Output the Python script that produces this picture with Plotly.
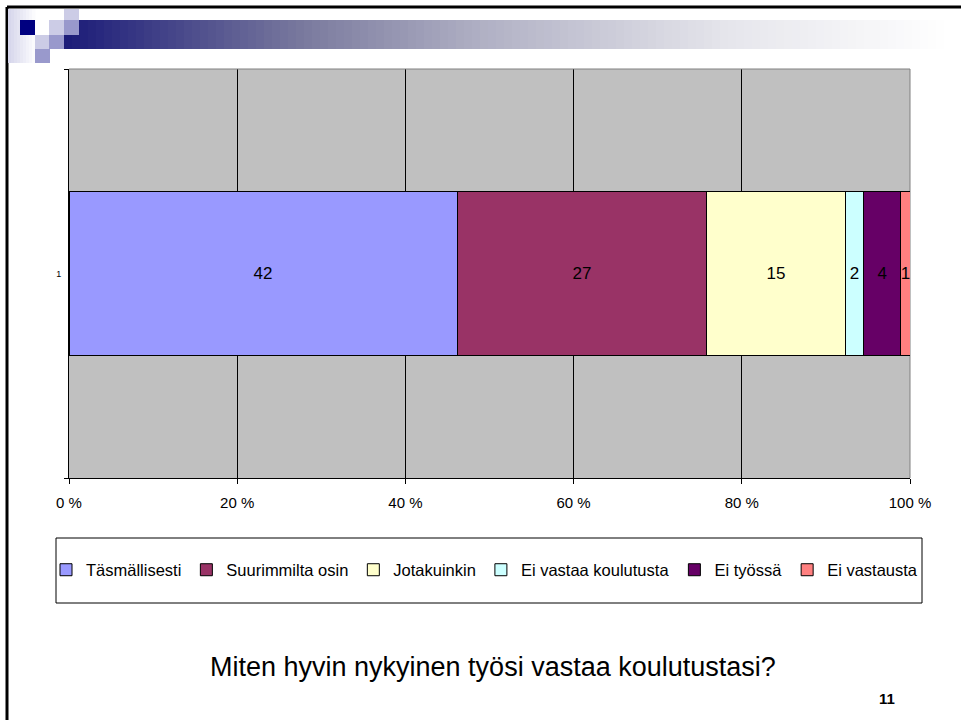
import plotly.graph_objects as go

# ---- data ----
categories = ["Täsmällisesti", "Suurimmilta osin", "Jotakuinkin",
              "Ei vastaa koulutusta", "Ei työssä", "Ei vastausta"]
values = [42, 27, 15, 2, 4, 1]
colors = ["#9999FF", "#993366", "#FFFFCC", "#CCFFFF", "#660066", "#FF8080"]
row_labels = ["1"]
x_tickvals = [0, 20, 40, 60, 80, 100]
x_ticktext = ["0 %", "20 %", "40 %", "60 %", "80 %", "100 %"]
title_text = "Miten hyvin nykyinen työsi vastaa koulutustasi?"
page_number = "11"

W, H = 961, 720
ML, MR, MT, MB = 69, 51, 69, 242
PW, PH = W - ML - MR, H - MT - MB
FONT = "Liberation Sans, Arial, sans-serif"


def px(x):
    return (x - ML) / PW


def py(y):
    return (H - MB - y) / PH


fig = go.Figure()
for name, v, c in zip(categories, values, colors):
    fig.add_trace(go.Bar(
        y=row_labels, x=[v], name=name, orientation="h",
        marker=dict(color=c, line=dict(color="#000000", width=1)),
        text=[str(v)], textposition="inside", insidetextanchor="middle",
        textangle=0, constraintext="none",
        textfont=dict(color="black", size=17, family=FONT),
    ))

shapes = []
# slide border lines
shapes.append(dict(type="line", xref="paper", yref="paper", x0=px(7), x1=px(961),
                   y0=py(7), y1=py(7), line=dict(color="black", width=3)))
shapes.append(dict(type="line", xref="paper", yref="paper", x0=px(7), x1=px(7),
                   y0=py(7), y1=py(720), line=dict(color="black", width=3)))

# header gradient bar
stops = [(0.0, (26, 26, 120)), (0.27, (122, 122, 158)), (0.47, (176, 176, 196)),
         (0.75, (230, 230, 236)), (1.0, (255, 255, 255))]


def grad(t):
    for (t0, c0), (t1, c1) in zip(stops[:-1], stops[1:]):
        if t <= t1:
            f = (t - t0) / (t1 - t0) if t1 > t0 else 0
            return "rgb(%d,%d,%d)" % tuple(round(a + (b - a) * f) for a, b in zip(c0, c1))
    return "rgb(255,255,255)"


x_start, x_end, n = 64, 952, 111
step = (x_end - x_start) / n
for i in range(n):
    shapes.append(dict(type="rect", xref="paper", yref="paper",
                       x0=px(x_start + i * step), x1=px(x_start + (i + 1) * step + 0.6),
                       y0=py(20), y1=py(49), line=dict(width=0),
                       fillcolor=grad((i + 0.5) / n)))
# left light strip
for i in range(9):
    t = i / 9
    c = tuple(round(a + (255 - a) * t) for a in (215, 215, 236))
    shapes.append(dict(type="rect", xref="paper", yref="paper",
                       x0=px(8 + i * 3), x1=px(8 + (i + 1) * 3 + 0.5),
                       y0=py(9), y1=py(63), line=dict(width=0),
                       fillcolor="rgb(%d,%d,%d)" % c))
squares = [
    (20, 35, 20, 35, "#000080"),
    (49, 64, 20, 35, "#CCCCE6"),
    (64, 79, 20, 35, "#9999CC"),
    (64, 79, 9, 20, "#CCCCE6"),
    (35, 49, 35, 49, "#CCCCE6"),
    (49, 64, 35, 49, "#9999CC"),
    (35, 50, 49, 63, "#9999CC"),
]
for x0, x1, y0, y1, c in squares:
    shapes.append(dict(type="rect", xref="paper", yref="paper",
                       x0=px(x0), x1=px(x1), y0=py(y0), y1=py(y1),
                       line=dict(width=0), fillcolor=c))

# plot-area top / right border
shapes.append(dict(type="line", xref="paper", yref="paper", x0=0, x1=1, y0=1, y1=1,
                   line=dict(color="#808080", width=1)))
shapes.append(dict(type="line", xref="paper", yref="paper", x0=1, x1=1, y0=0, y1=1,
                   line=dict(color="#808080", width=1), layer="below"))
# legend frame
shapes.append(dict(type="rect", xref="paper", yref="paper",
                   x0=px(56), x1=px(922), y0=py(538), y1=py(603),
                   line=dict(color="black", width=1), fillcolor="rgba(0,0,0,0)"))

annotations = [
    dict(text=title_text, xref="paper", yref="paper", x=px(493), y=py(667),
         xanchor="center", yanchor="middle", showarrow=False,
         font=dict(size=27, color="black", family=FONT)),
    dict(text="<b>" + page_number + "</b>", xref="paper", yref="paper",
         x=px(887), y=py(698), xanchor="center", yanchor="middle", showarrow=False,
         font=dict(size=15, color="black", family=FONT)),
]

fig.update_layout(
    width=W, height=H,
    margin=dict(l=ML, r=MR, t=MT, b=MB),
    paper_bgcolor="white", plot_bgcolor="#C0C0C0",
    barmode="stack", barnorm="percent", bargap=0.6,
    font=dict(family=FONT, color="black"),
    showlegend=True,
    legend=dict(orientation="h", traceorder="normal",
                xref="paper", yref="paper",
                x=px(46), y=py(570),
                xanchor="left", yanchor="middle", bgcolor="rgba(0,0,0,0)",
                font=dict(size=16.5, color="black", family=FONT),
                itemwidth=30, itemclick=False),
    xaxis=dict(range=[0, 100], tickvals=x_tickvals, ticktext=x_ticktext,
               showgrid=True, gridcolor="black", gridwidth=1,
               showline=True, linecolor="black", linewidth=1,
               ticks="outside", ticklen=5, tickcolor="black",
               ticklabelstandoff=6,
               tickfont=dict(size=15, color="black", family=FONT),
               zeroline=False, fixedrange=True),
    yaxis=dict(type="category", range=[-0.5, 0.5], showgrid=False,
               showline=True, linecolor="black", linewidth=1,
               ticks="outside", ticklen=4, tickcolor="black", tickson="boundaries",
               ticklabelstandoff=5,
               tickfont=dict(size=9, color="black", family=FONT),
               zeroline=False, fixedrange=True),
    shapes=shapes, annotations=annotations,
)

fig.write_html(
    "out.html",
    config={"displayModeBar": False},
    post_script="document.body.style.margin='0';document.body.style.padding='0';"
                "document.documentElement.style.overflow='hidden';",
)
